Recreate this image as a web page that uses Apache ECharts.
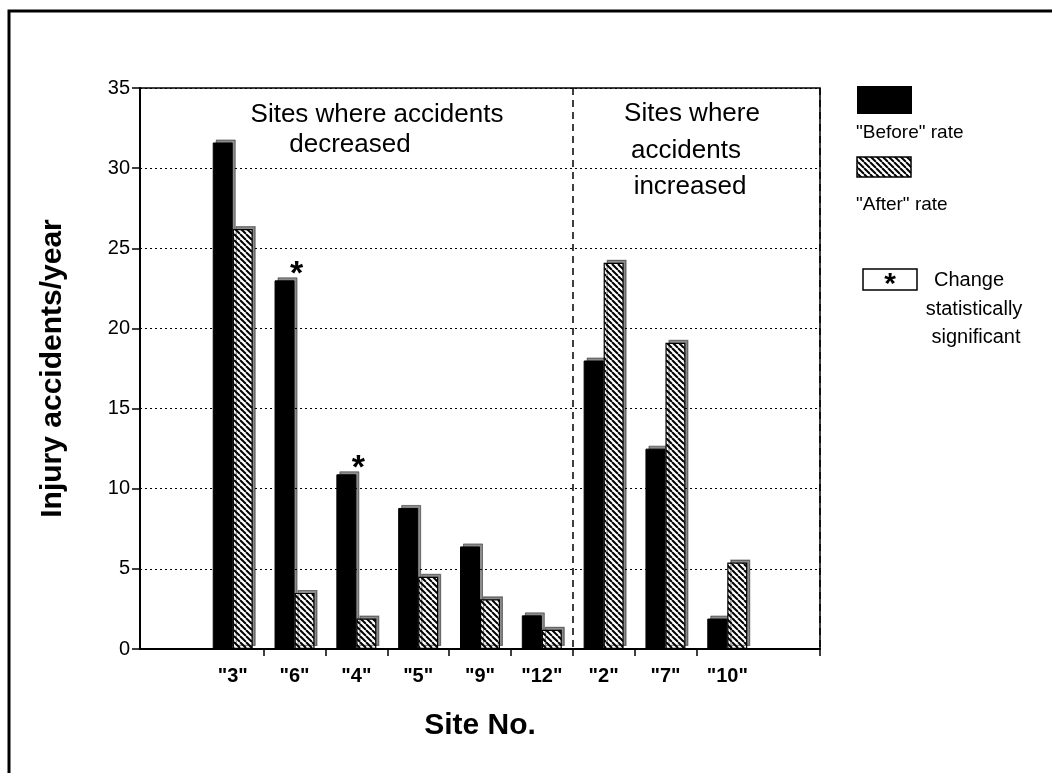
<!DOCTYPE html>
<html>
<head>
<meta charset="utf-8">
<style>
  html, body { margin: 0; padding: 0; background: #fff; }
  #chart { width: 1052px; height: 773px; }
</style>
<script src="https://cdn.jsdelivr.net/npm/echarts@6/dist/echarts.min.js"></script>
</head>
<body>
<div id="chart"></div>
<script>
// site numbers in the order they appear on the x axis
var sites = ['3', '6', '4', '5', '9', '12', '2', '7', '10'];
var beforeRate = [31.6, 23.0, 10.9, 8.8, 6.4, 2.1, 18.0, 12.5, 1.9];
var afterRate = [26.2, 3.5, 1.9, 4.5, 3.1, 1.2, 24.1, 19.1, 5.4];
var significantSites = ['6', '4'];
var yTicks = [0, 5, 10, 15, 20, 25, 30, 35];

var FONT = '"Liberation Sans", Arial, Helvetica, sans-serif';

// hatch pattern for the "after" bars
function makeHatch() {
  var s = 6;
  var c = document.createElement('canvas');
  c.width = s; c.height = s;
  var ctx = c.getContext('2d');
  ctx.fillStyle = '#fff';
  ctx.fillRect(0, 0, s, s);
  ctx.strokeStyle = '#000';
  ctx.lineWidth = 2;
  for (var k = -s; k <= s; k += s) {
    ctx.beginPath();
    ctx.moveTo(k, 0);
    ctx.lineTo(k + s, s);
    ctx.stroke();
  }
  return c;
}
var hatch = { image: makeHatch(), repeat: 'repeat' };

// one blank category on each side, like the original
var categories = [''].concat(sites.map(function (s) { return '"' + s + '"'; })).concat(['']);
var divideAt = 7; // boundary between "12" and "2"

var beforeData = ['-'].concat(beforeRate.map(function (v, i) {
  if (significantSites.indexOf(sites[i]) >= 0) {
    return {
      value: v,
      label: {
        show: true, formatter: '*', position: 'top', distance: 0,
        offset: [12, 11], fontSize: 34, fontWeight: 'bold', color: '#000', fontFamily: FONT
      }
    };
  }
  return v;
})).concat(['-']);
var afterData = ['-'].concat(afterRate).concat(['-']);

var chart = echarts.init(document.getElementById('chart'));

var option = {
  backgroundColor: '#fff',
  animation: false,
  textStyle: { fontFamily: FONT, color: '#000' },
  grid: {
    left: 140, right: 232, top: 88, bottom: 124,
    show: true, borderColor: '#000', borderWidth: 1.5, backgroundColor: 'transparent'
  },
  xAxis: [{
    type: 'category',
    data: categories,
    name: 'Site No.',
    nameLocation: 'middle',
    nameGap: 62,
    nameTextStyle: { fontSize: 30, fontWeight: 'bold', color: '#000', fontFamily: FONT },
    axisLine: { lineStyle: { color: '#000', width: 2 } },
    axisTick: {
      show: true, length: 7, lineStyle: { color: '#000', width: 1.5 },
      interval: function (i) { return i >= 2 && i <= 9; }
    },
    axisLabel: {
      interval: 0, margin: 17, fontSize: 20, fontWeight: 'bold', color: '#000', fontFamily: FONT
    },
    splitLine: {
      show: true,
      interval: function (i) { return i === 0 || i === divideAt; },
      lineStyle: { color: '#000', type: [7, 5], width: 1.5 }
    }
  }],
  yAxis: [{
    type: 'value',
    min: yTicks[0],
    max: yTicks[yTicks.length - 1],
    interval: 5,
    name: 'Injury accidents/year',
    nameLocation: 'middle',
    nameGap: 72,
    nameTextStyle: { fontSize: 30, fontWeight: 'bold', color: '#000', fontFamily: FONT },
    axisLine: { show: true, lineStyle: { color: '#000', width: 2 } },
    axisTick: { show: true, length: 8, lineStyle: { color: '#000', width: 1.5 } },
    axisLabel: { fontSize: 20, color: '#000', margin: 10, fontFamily: FONT },
    splitLine: { show: true, lineStyle: { color: '#000', type: [2, 3], width: 1.2 } }
  }],
  series: [
    {
      name: '"Before" rate',
      type: 'bar',
      data: beforeData,
      barWidth: 20,
      barGap: '0%',
      itemStyle: {
        color: '#000', borderColor: '#000', borderWidth: 1,
        shadowColor: 'rgba(0,0,0,0.45)', shadowOffsetX: 3, shadowOffsetY: -3, shadowBlur: 0
      }
    },
    {
      name: '"After" rate',
      type: 'bar',
      data: afterData,
      barWidth: 20,
      itemStyle: {
        color: hatch, borderColor: '#000', borderWidth: 1.2,
        shadowColor: 'rgba(0,0,0,0.45)', shadowOffsetX: 3, shadowOffsetY: -3, shadowBlur: 0
      }
    }
  ],
  graphic: [
    // outer frame
    { type: 'rect', shape: { x: 9, y: 11, width: 1100, height: 800 }, style: { fill: 'none', stroke: '#000', lineWidth: 3 }, silent: true },
    // region notes
    { type: 'text', x: 377, y: 115, style: { text: 'Sites where accidents', font: '26px ' + FONT, fill: '#000', align: 'center', verticalAlign: 'middle' } },
    { type: 'text', x: 350, y: 145, style: { text: 'decreased', font: '26px ' + FONT, fill: '#000', align: 'center', verticalAlign: 'middle' } },
    { type: 'text', x: 692, y: 114, style: { text: 'Sites where', font: '26px ' + FONT, fill: '#000', align: 'center', verticalAlign: 'middle' } },
    { type: 'text', x: 686, y: 151, style: { text: 'accidents', font: '26px ' + FONT, fill: '#000', align: 'center', verticalAlign: 'middle' } },
    { type: 'text', x: 690, y: 187, style: { text: 'increased', font: '26px ' + FONT, fill: '#000', align: 'center', verticalAlign: 'middle' } },
    // legend
    { type: 'rect', shape: { x: 857, y: 86, width: 55, height: 28 }, style: { fill: '#000' } },
    { type: 'text', x: 856, y: 133, style: { text: '"Before" rate', font: '19px ' + FONT, fill: '#000', verticalAlign: 'middle' } },
    { type: 'rect', shape: { x: 857, y: 157, width: 54, height: 20 }, style: { fill: hatch, stroke: '#000', lineWidth: 1.5 } },
    { type: 'text', x: 856, y: 205, style: { text: '"After" rate', font: '19px ' + FONT, fill: '#000', verticalAlign: 'middle' } },
    { type: 'rect', shape: { x: 863, y: 269, width: 54, height: 21 }, style: { fill: '#fff', stroke: '#000', lineWidth: 1.5 } },
    { type: 'text', x: 890, y: 285, style: { text: '*', font: 'bold 30px ' + FONT, fill: '#000', align: 'center', verticalAlign: 'middle' } },
    { type: 'text', x: 934, y: 280, style: { text: 'Change', font: '20px ' + FONT, fill: '#000', verticalAlign: 'middle' } },
    { type: 'text', x: 974, y: 309, style: { text: 'statistically', font: '20px ' + FONT, fill: '#000', align: 'center', verticalAlign: 'middle' } },
    { type: 'text', x: 976, y: 337, style: { text: 'significant', font: '20px ' + FONT, fill: '#000', align: 'center', verticalAlign: 'middle' } }
  ]
};

chart.setOption(option);
window.addEventListener('resize', function () { chart.resize(); });
</script>
</body>
</html>
